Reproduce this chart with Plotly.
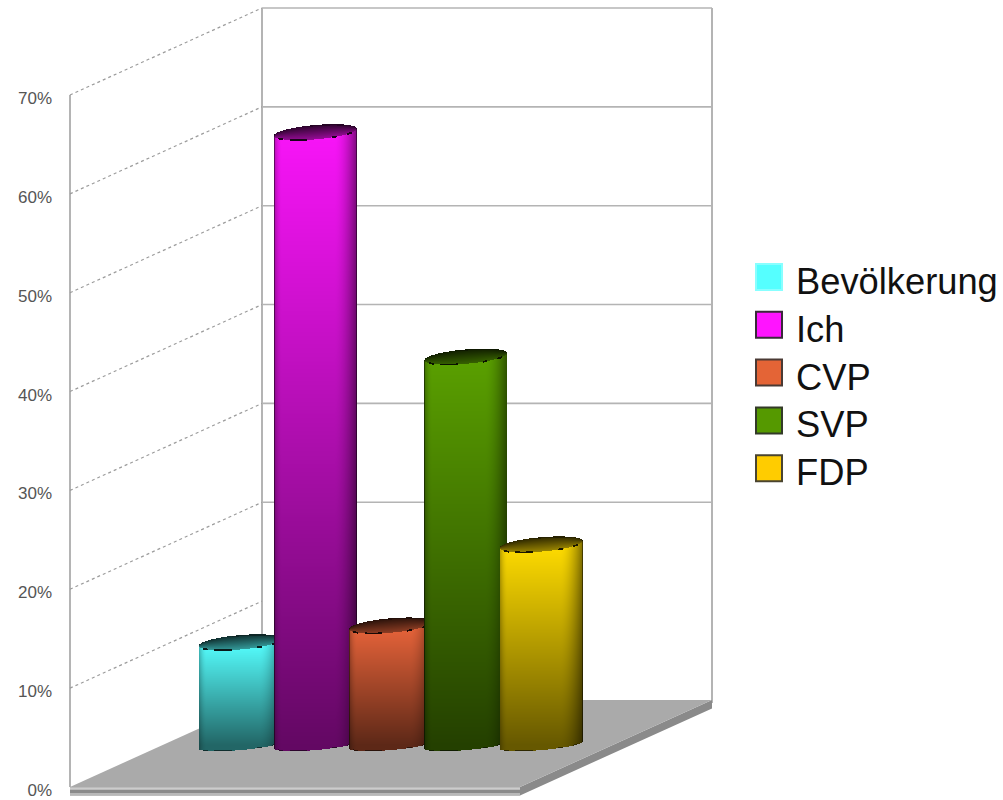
import numpy as np
import plotly.graph_objects as go

# Chart data
parties = ["Bevölkerung", "Ich", "CVP", "SVP", "FDP"]
shares = [10.4, 62.0, 12.1, 39.3, 20.3]
colors = ["#55ffff", "#f814f8", "#e8643a", "#5aa000", "#ffdc00"]
legend_colors = ["#55ffff", "#ff14ff", "#e46436", "#559900", "#ffcc00"]
legend_borders = ["#88ffff", "#3a2a3a", "#4a3a34", "#333a28", "#4a4430"]
tick_values = [0, 10, 20, 30, 40, 50, 60, 70]
tick_labels = ["0%", "10%", "20%", "30%", "40%", "50%", "60%", "70%"]

# Oblique projection: the x axis counts pixels, the y axis counts percent
WIDTH, HEIGHT = 1003, 800
ORIGIN_X, ORIGIN_PX = 70, 787
PX_PER_PCT = 9.886
FLOOR_W = 450
DEPTH_X, DEPTH_PCT = 192, 87 / PX_PER_PCT
PX = 1 / PX_PER_PCT
TOP_PCT = 70


def proj(h, v, d=0.0):
    """Map (horizontal offset, value, depth 0..1) to axis coordinates."""
    return ORIGIN_X + h + DEPTH_X * d, v + DEPTH_PCT * d


def polygon(points, **kw):
    path = "M " + " L ".join(f"{x:.2f},{y:.3f}" for x, y in points) + " Z"
    return dict(type="path", path=path, xref="x", yref="y", layer="below", **kw)


def segment(p, q, color, width, dash="solid"):
    return dict(type="line", x0=p[0], y0=p[1], x1=q[0], y1=q[1], xref="x", yref="y",
                layer="below", line=dict(color=color, width=width, dash=dash))


WALL = "#b4b4b4"
shapes = []

# Walls and grid
shapes.append(segment(proj(0, 0), proj(0, TOP_PCT), WALL, 2))
shapes.append(segment(proj(0, 0, 1), proj(0, TOP_PCT, 1), WALL, 2))
shapes.append(segment(proj(FLOOR_W, -0.3, 1), proj(FLOOR_W, TOP_PCT, 1), WALL, 2))
for v in tick_values[1:]:
    shapes.append(segment(proj(0, v), proj(0, v, 1), "#9c9c9c", 1.2, "3px,3px"))
    if v >= 20:
        shapes.append(segment(proj(0, v, 1), proj(FLOOR_W, v, 1), WALL, 1.6))

# Floor slab
slab = 0.85
shapes.append(polygon([proj(0, -slab), proj(FLOOR_W, -slab), proj(FLOOR_W, -slab, 1),
                       proj(FLOOR_W, 0, 1), proj(FLOOR_W, 0), proj(0, 0)],
                      fillcolor="#8a8a8a", line=dict(width=0)))
shapes.append(polygon([proj(0, -0.02), proj(FLOOR_W, -0.02), proj(FLOOR_W, -0.28), proj(0, -0.28)],
                      fillcolor="#cccccc", line=dict(width=0)))
shapes.append(polygon([proj(0, -0.6), proj(FLOOR_W, -0.6), proj(FLOOR_W, -slab), proj(0, -slab)],
                      fillcolor="#b8b8b8", line=dict(width=0)))
shapes.append(polygon([proj(0, 0), proj(FLOOR_W, 0), proj(FLOOR_W, 0, 1), proj(0, 0, 1)],
                      fillcolor="#aaaaaa", line=dict(width=0)))

fig = go.Figure()

# Cylinders, painted back to front so each one overlaps its left neighbour
BAR_DEPTH = 0.48
FIRST_H, STEP_H = 77.5, 75.25
RADIUS = 41.5
TILT = 3.5 * PX
CAP = 7.2 * PX
FOOT = 5.0 * PX
RIM_DASHES = [(-0.9, -0.78), (-0.62, -0.2), (0.4, 0.52), (0.76, 0.88)]


def side_shade(u):
    shade = np.ones_like(u)
    shade = np.where(u > 0.45, 1 - 0.5 * ((u - 0.45) / 0.55) ** 1.8, shade)
    shade = np.where(u < -0.8, 1 - 0.3 * ((-u - 0.8) / 0.2) ** 2, shade)
    return shade


for i, (name, value, color) in enumerate(zip(parties, shares, colors)):
    cx, base = proj(FIRST_H + i * STEP_H, 0, BAR_DEPTH)
    top = base + value
    xs = np.arange(np.floor(cx - RADIUS), np.ceil(cx + RADIUS) + 1)
    ys = np.arange(base - 2 * CAP, top + 2 * CAP, PX)
    X, Y = np.meshgrid(xs, ys)
    u = (X - cx) / RADIUS
    inside = np.abs(u) <= 1
    u_safe = np.clip(u, -1, 1)
    root = np.sqrt(1 - u_safe ** 2)
    half = CAP * root
    tilt = TILT * u_safe
    low = base + tilt - FOOT * root
    front = top + tilt - half
    back = top + tilt + half

    along = np.clip((top - Y) / value, 0, 1)
    z = (1 - 0.6 * along) * side_shade(u_safe)

    on_cap = Y > front
    depth = np.clip((Y - front) / np.maximum(back - front, 1e-6), 0, 1)
    z = np.where(on_cap, (0.6 - 0.42 * depth) * (0.6 + 0.4 * side_shade(u_safe)), z)

    # Dark flecks along the rims of the two end faces
    for a, b in RIM_DASHES:
        in_dash = (u_safe >= a) & (u_safe <= b)
        z = np.where(in_dash & (np.abs(Y - front) < 0.9 * PX), 0.1, z)
        z = np.where(in_dash & (Y - low < 1.0 * PX) & (Y >= low), 0.18, z)
    z = np.where((back - Y < 1.3 * PX) & (u_safe > -0.2) & (u_safe < 0.75), 0.15, z)
    z = np.where(np.abs(u_safe) > 0.985, z * 0.55, z)

    z = np.where(inside & (Y >= low) & (Y <= back), z, np.nan)
    fig.add_trace(go.Heatmap(
        x=xs, y=ys, z=z, name=name, zmin=0, zmax=1, showscale=False, hoverinfo="skip",
        colorscale=[[0, "#000000"], [1, color]],
    ))

# Key on the right-hand side
KEY_X, TEXT_X = 769, 796
KEY_TOP_PX, KEY_STEP_PX = 277, 47.8
TEXT_DROP_PX = 8
key_y = [(ORIGIN_PX - (KEY_TOP_PX + i * KEY_STEP_PX)) / PX_PER_PCT for i in range(len(parties))]
text_y = [y - TEXT_DROP_PX / PX_PER_PCT for y in key_y]
fig.add_trace(go.Scatter(
    x=[KEY_X] * len(parties), y=key_y, mode="markers", hoverinfo="skip", showlegend=False,
    marker=dict(symbol="square", size=26, color=legend_colors,
                line=dict(color=legend_borders, width=2)),
))
fig.add_trace(go.Scatter(
    x=[TEXT_X] * len(parties), y=text_y, mode="text", text=parties, textposition="middle right",
    textfont=dict(family="Liberation Sans", size=36.3, color="#111111"),
    hoverinfo="skip", showlegend=False,
))

LEFT_PAD = 10
fig.update_layout(
    width=WIDTH, height=HEIGHT, margin=dict(l=0, r=0, t=0, b=0),
    paper_bgcolor="white", plot_bgcolor="white", showlegend=False,
    shapes=shapes,
    xaxis=dict(domain=[(ORIGIN_X - LEFT_PAD) / WIDTH, 1], range=[ORIGIN_X - LEFT_PAD, WIDTH],
               visible=False, fixedrange=True),
    yaxis=dict(range=[(ORIGIN_PX - HEIGHT) / PX_PER_PCT, ORIGIN_PX / PX_PER_PCT],
               tickmode="array", tickvals=tick_values, ticktext=tick_labels,
               showgrid=False, zeroline=False, showline=False, ticks="",
               ticklabelstandoff=7, ticklabelshift=3, fixedrange=True,
               tickfont=dict(family="Liberation Sans", size=17, color="#555555")),
)

fig.write_html("out.html")
